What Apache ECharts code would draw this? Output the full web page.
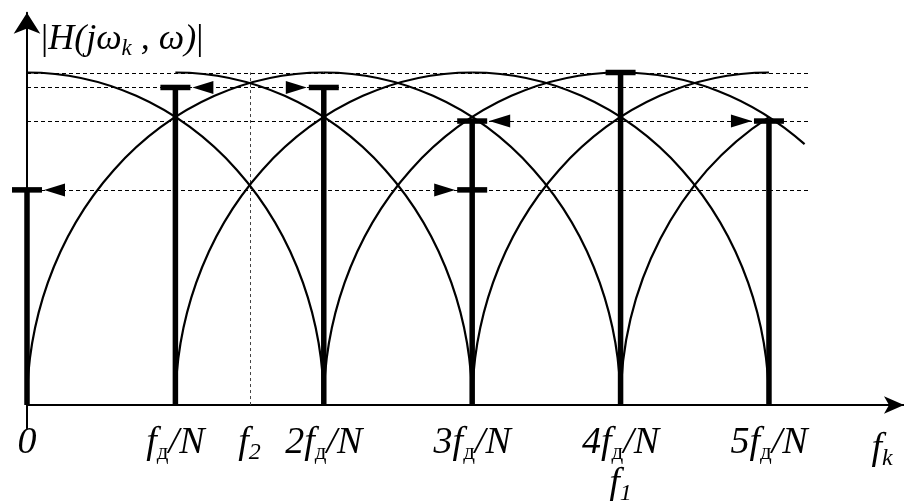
<!DOCTYPE html>
<html>
<head>
<meta charset="utf-8">
<script src="https://cdn.jsdelivr.net/npm/echarts@6/dist/echarts.min.js"></script>
<style>
  html, body { margin: 0; padding: 0; background: #fff; }
  #chart { width: 904px; height: 501px; }
</style>
</head>
<body>
<div id="chart"></div>
<script>
// Frequencies are in units of f_д/N, magnitudes are relative to the lobe peak.
const sampleK = [0, 1, 2, 3, 4, 5];
const sampleMag = [0.647, 0.955, 0.955, 0.854, 1.0, 0.854];
// second marker on the 3f_д/N line
const extraCaps = [[3, 0.647]];
// dashed reference levels and where they stop
const levels = [1.0, 0.955, 0.854, 0.647];
const levelEnd = 5.27;
const f2 = 1.5;
// arrows: [sample k, level, pointing direction]
const arrows = [
  [0, 0.647, 'left'],
  [1, 0.955, 'left'],
  [2, 0.955, 'right'],
  [3, 0.854, 'left'],
  [3, 0.647, 'right'],
  [5, 0.854, 'right']
];
// lobe pieces: [lobe centre, from, to]
const archSegments = [
  [0, 0, 2],
  [1, 1, 3],
  [2, 0, 2], [2, 2, 4],
  [3, 1, 3], [3, 3, 5],
  [4, 2, 4], [4, 4, 5.24],
  [5, 3, 5],
  [6, 4, 5]
];
const archHalfWidth = 2;
const archPeak = 1;
const tickValues = [0, 1, 1.5, 2, 3, 4, 5];
const tickLabels = [
  '{m|0}',
  '{m|f}{d|д}{m|/N}',
  '{m|f}{n|2}',
  '{m|2f}{d|д}{m|/N}',
  '{m|3f}{d|д}{m|/N}',
  '{m|4f}{d|д}{m|/N}\n{m|f}{n|1}',
  '{m|5f}{d|д}{m|/N}'
];

const SERIF = '"Liberation Serif", "Times New Roman", serif';
const rich = {
  m: { fontFamily: SERIF, fontStyle: 'italic', fontSize: 38, color: '#000', lineHeight: 41 },
  d: { fontFamily: SERIF, fontStyle: 'normal', fontSize: 23, color: '#000', lineHeight: 21, padding: [20, 0, 0, 0] },
  n: { fontFamily: SERIF, fontStyle: 'italic', fontSize: 24, color: '#000', lineHeight: 21, padding: [20, 0, 0, 0] }
};
const nameRich = {
  u: { fontFamily: SERIF, fontStyle: 'normal', fontSize: 36, color: '#000', lineHeight: 40 },
  m: { fontFamily: SERIF, fontStyle: 'italic', fontSize: 36, color: '#000', lineHeight: 40 },
  n: { fontFamily: SERIF, fontStyle: 'italic', fontSize: 23, color: '#000', lineHeight: 21, padding: [19, 0, 0, 0] }
};

function lobeValue(c, x) {
  const u = (x - c) / archHalfWidth;
  return archPeak * Math.sqrt(Math.max(0, 1 - u * u));
}

const chart = echarts.init(document.getElementById('chart'), null, { renderer: 'canvas' });

const option = {
  animation: false,
  backgroundColor: '#fff',
  grid: { left: 27, right: 0, top: 12.65, bottom: 72.7, containLabel: false, outerBoundsMode: 'none' },
  xAxis: {
    type: 'value',
    min: 0,
    max: 5.91,
    name: '{m|f}{n|k}',
    nameLocation: 'end',
    nameGap: -22,
    nameTextStyle: { align: 'center', verticalAlign: 'top', padding: [23, 0, 0, 0], rich: rich },
    axisLine: {
      onZero: true,
      lineStyle: { color: '#000', width: 2 },
      symbol: ['none', 'arrow'],
      symbolSize: [13, 20]
    },
    axisTick: { show: false },
    splitLine: { show: false },
    axisLabel: {
      customValues: tickValues,
      margin: -6,
      verticalAlign: 'top',
      formatter: function (v) {
        const i = tickValues.indexOf(v);
        return i >= 0 ? tickLabels[i] : '';
      },
      rich: rich
    }
  },
  yAxis: {
    type: 'value',
    min: -0.07,
    max: 1.18,
    name: '{u||}{m|H(jω}{n|k}{m| , ω)}{u||}',
    nameLocation: 'end',
    nameGap: -27,
    nameTextStyle: { align: 'left', verticalAlign: 'middle', padding: [0, 0, 0, 14], rich: nameRich },
    axisLine: {
      lineStyle: { color: '#000', width: 2 },
      symbol: ['none', 'arrow'],
      symbolSize: [20, 21]
    },
    axisTick: { show: false },
    axisLabel: { show: false },
    splitLine: { show: false }
  },
  series: [
    {
      // dashed reference levels
      type: 'custom',
      z: 1,
      data: levels.map(v => [v]),
      renderItem: function (params, api) {
        const v = api.value(0);
        const a = api.coord([0, v]);
        const b = api.coord([levelEnd, v]);
        const y = Math.round(a[1]) + 0.5;
        return {
          type: 'line',
          shape: { x1: a[0], y1: y, x2: b[0], y2: y },
          style: { stroke: '#000', lineWidth: 1, lineDash: [4, 3] }
        };
      }
    },
    {
      // marker for f2
      type: 'custom',
      z: 1,
      data: [[f2, levels[0]]],
      renderItem: function (params, api) {
        const a = api.coord([api.value(0), 0]);
        const b = api.coord([api.value(0), api.value(1)]);
        const x = Math.round(a[0]) + 0.5;
        return {
          type: 'line',
          shape: { x1: x, y1: a[1], x2: x, y2: b[1] },
          style: { stroke: '#444', lineWidth: 1, lineDash: [3, 3] }
        };
      }
    },
    {
      // frequency response lobes
      type: 'custom',
      z: 2,
      data: archSegments,
      renderItem: function (params, api) {
        const c = api.value(0), a = api.value(1), b = api.value(2);
        const p0 = api.coord([a, lobeValue(c, a)]);
        const p1 = api.coord([b, lobeValue(c, b)]);
        const r = api.size([archHalfWidth, archPeak]);
        const d = 'M' + p0[0] + ' ' + p0[1] + ' A' + r[0] + ' ' + r[1] + ' 0 0 1 ' + p1[0] + ' ' + p1[1];
        return {
          type: 'path',
          shape: { pathData: d },
          style: { fill: null, stroke: '#000', lineWidth: 2.2 }
        };
      }
    },
    {
      // sampled magnitudes
      type: 'custom',
      z: 3,
      data: sampleK.map((k, i) => [k, sampleMag[i]]),
      renderItem: function (params, api) {
        const base = api.coord([api.value(0), 0]);
        const top = api.coord([api.value(0), api.value(1)]);
        return {
          type: 'group',
          children: [
            { type: 'rect', shape: { x: base[0] - 2.75, y: top[1], width: 5.5, height: base[1] - top[1] }, style: { fill: '#000' } },
            { type: 'rect', shape: { x: top[0] - 15, y: top[1] - 2.75, width: 30, height: 5.5 }, style: { fill: '#000' } }
          ]
        };
      }
    },
    {
      type: 'custom',
      z: 3,
      data: extraCaps,
      renderItem: function (params, api) {
        const p = api.coord([api.value(0), api.value(1)]);
        return { type: 'rect', shape: { x: p[0] - 15, y: p[1] - 2.75, width: 30, height: 5.5 }, style: { fill: '#000' } };
      }
    },
    {
      // arrows pointing at the markers
      type: 'custom',
      z: 3,
      data: arrows.map(a => [a[0], a[1], a[2] === 'left' ? -1 : 1]),
      renderItem: function (params, api) {
        const p = api.coord([api.value(0), api.value(1)]);
        const dir = api.value(2);
        const tip = p[0] - dir * (15 + 2);
        const back = tip - dir * 21;
        return {
          type: 'polygon',
          shape: { points: [[tip, p[1]], [back, p[1] - 6.5], [back, p[1] + 6.5]] },
          style: { fill: '#000' }
        };
      }
    }
  ]
};

chart.setOption(option);
</script>
</body>
</html>
